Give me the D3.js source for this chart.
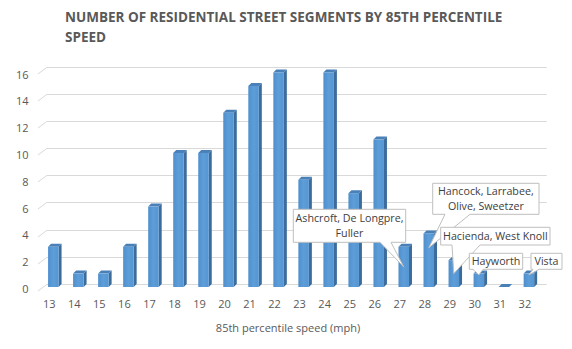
<!DOCTYPE html>
<html>
<head>
<meta charset="utf-8">
<script src="https://cdn.jsdelivr.net/npm/d3@7"></script>
<style>
  html, body { margin: 0; padding: 0; background: #ffffff; }
  svg { display: block; }
  text { font-family: "Open Sans", "DejaVu Sans", sans-serif; }
</style>
</head>
<body>
<script>
// ---- data ----
const categories = ["13","14","15","16","17","18","19","20","21","22","23","24","25","26","27","28","29","30","31","32"];
const counts = [3,1,1,3,6,10,10,13,15,16,8,16,7,11,3,4,2,1,0,1];
const yTicks = [0,2,4,6,8,10,12,14,16];
const titleLines = ["NUMBER OF RESIDENTIAL STREET SEGMENTS BY 85TH PERCENTILE", "SPEED"];
const xAxisTitle = "85th percentile speed (mph)";
const calloutCategories = ["27","28","29","30","32"];
const calloutTexts = [
  ["Ashcroft, De Longpre,", "Fuller"],
  ["Hancock, Larrabee,", "Olive, Sweetzer"],
  ["Hacienda, West Knoll"],
  ["Hayworth"],
  ["Vista"]
];

// ---- layout (not data) ----
const W = 572, H = 349;
const calloutBoxes = [
  {l: 293.3, r: 405.7, t: 209.3, b: 242.3, b1: 380, b2: 391, tipFrac: 0.5},
  {l: 432.7, r: 539.0, t: 183.3, b: 214.3, b1: 445, b2: 470, tipFrac: 0.73},
  {l: 440.7, r: 550.0, t: 227.3, b: 245.0, b1: 452, b2: 480, tipFrac: 0.5},
  {l: 469.3, r: 522.7, t: 253.3, b: 269.3, b1: 473, b2: 483, tipFrac: 0.9},
  {l: 531.0, r: 562.0, t: 253.3, b: 269.3, b1: 533, b2: 539, tipFrac: 0.9}
];

const svg = d3.select("body").append("svg").attr("width", W).attr("height", H);

// scales
const xBand = d3.scaleBand().domain(categories).range([40.8, 541.4]);
const yFront = d3.scaleLinear().domain([0, 16]).range([287, 72.5]);
const yBack = d3.scaleLinear().domain([0, 16]).range([283.8, 66.7]);

const depthX = 3, depthY = 3;

// title
const title = svg.append("g");
titleLines.forEach((t, i) => {
  title.append("text")
    .attr("x", 65).attr("y", 22 + i * 20)
    .attr("fill", "#595959")
    .style("font-size", "13.5px").style("font-weight", "bold")
    .text(t);
});

// gridlines (back wall)
const grid = svg.append("g").attr("stroke", "#d9d9d9").attr("stroke-width", 1).attr("fill", "none");
yTicks.forEach(v => {
  const yb = Math.round(yBack(v)) + 0.5;
  grid.append("path").attr("d", `M38,${yb + 6.5} L46.7,${yb} L546.7,${yb}`);
});

// y tick labels (via axis)
const yAxis = d3.axisLeft(yFront).tickValues(yTicks).tickSize(0).tickPadding(0);
const yg = svg.append("g").attr("transform", "translate(28.5,2)").call(yAxis);
yg.select(".domain").remove();
yg.selectAll("text").attr("fill", "#595959").style("font-size", "11px")
  .style("font-family", "'Open Sans', sans-serif");

// x tick labels (via axis)
const xAxis = d3.axisBottom(xBand).tickSize(0).tickPadding(0);
const xg = svg.append("g").attr("transform", "translate(-4,300)").call(xAxis);
xg.select(".domain").remove();
xg.selectAll("text").attr("fill", "#595959").style("font-size", "11px")
  .style("font-family", "'Open Sans', sans-serif");

// x axis title
svg.append("text")
  .attr("x", 288).attr("y", 332)
  .attr("text-anchor", "middle")
  .attr("fill", "#595959")
  .style("font-size", "11px")
  .text(xAxisTitle);

// gradient for bar front
const defs = svg.append("defs");
const grad = defs.append("linearGradient").attr("id", "frontGrad").attr("x1", "0").attr("x2", "1").attr("y1", "0").attr("y2", "0");
grad.append("stop").attr("offset", "0%").attr("stop-color", "#4f8fcd");
grad.append("stop").attr("offset", "50%").attr("stop-color", "#5d9dd8");
grad.append("stop").attr("offset", "100%").attr("stop-color", "#5496d3");

// bars
const bars = svg.append("g");
const bw = 10.5;
categories.forEach((c, i) => {
  const v = counts[i];
  const cx = xBand(c) + xBand.bandwidth() / 2;
  const x0 = cx - bw / 2, x1 = cx + bw / 2;
  const yt = yFront(v), yb = yFront(0);
  const g = bars.append("g");
  g.append("path")
    .attr("d", `M${x1},${yt} L${x1 + depthX},${yt - depthY} L${x1 + depthX},${yb - depthY} L${x1},${yb} Z`)
    .attr("fill", "#3c6c9c");
  g.append("path")
    .attr("d", `M${x0},${yt} L${x0 + depthX},${yt - depthY} L${x1 + depthX},${yt - depthY} L${x1},${yt} Z`)
    .attr("fill", "#4a80b8");
  if (v > 0) {
    g.append("rect")
      .attr("x", x0).attr("y", yt).attr("width", bw).attr("height", yb - yt)
      .attr("fill", "url(#frontGrad)");
  }
});

// callouts
const callouts = svg.append("g");
calloutCategories.forEach((c, i) => {
  const box = calloutBoxes[i];
  const idx = categories.indexOf(c);
  const v = counts[idx];
  const tx = xBand(c) + xBand.bandwidth() / 2;
  const ty = yFront(v * box.tipFrac);
  const d = `M${box.l},${box.t} L${box.r},${box.t} L${box.r},${box.b} L${box.b2},${box.b} L${tx},${ty} L${box.b1},${box.b} L${box.l},${box.b} Z`;
  callouts.append("path").attr("d", d)
    .attr("fill", "#ffffff").attr("stroke", "#bfbfbf").attr("stroke-width", 1);
  const lines = calloutTexts[i];
  const cxm = (box.l + box.r) / 2, cym = (box.t + box.b) / 2;
  const lh = 15;
  lines.forEach((ln, j) => {
    callouts.append("text")
      .attr("x", cxm)
      .attr("y", cym + (j - (lines.length - 1) / 2) * lh)
      .attr("dy", "0.35em")
      .attr("text-anchor", "middle")
      .attr("fill", "#404040")
      .style("font-size", "10.7px")
      .text(ln);
  });
});
</script>
</body>
</html>
